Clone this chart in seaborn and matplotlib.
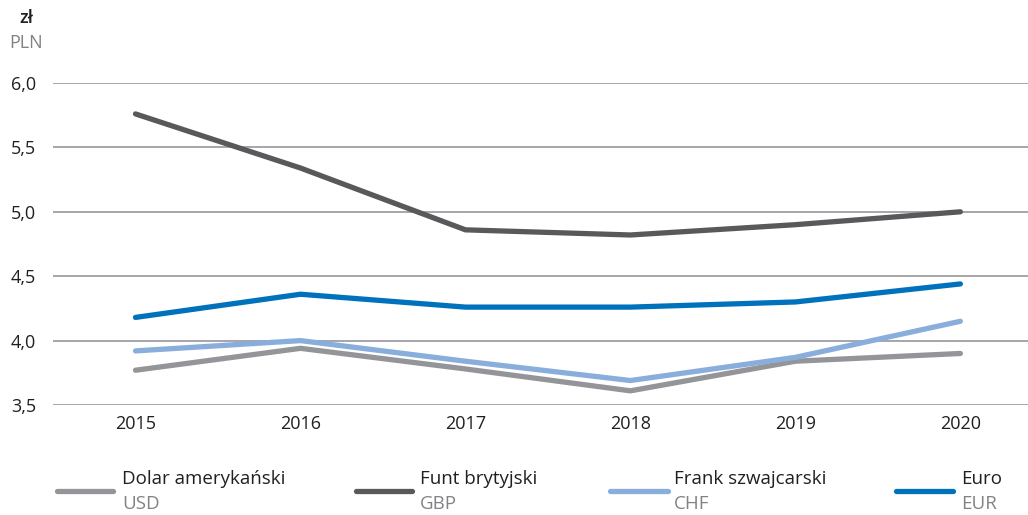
import matplotlib
matplotlib.use("Agg")
import matplotlib.pyplot as plt
from matplotlib.lines import Line2D
import seaborn as sns
import pandas as pd

years = [2015, 2016, 2017, 2018, 2019, 2020]
usd = [3.77, 3.94, 3.78, 3.61, 3.84, 3.90]
gbp = [5.76, 5.34, 4.86, 4.82, 4.90, 5.00]
chf = [3.92, 4.00, 3.84, 3.69, 3.87, 4.15]
eur = [4.18, 4.36, 4.26, 4.26, 4.30, 4.44]

names = ["Dolar amerykański", "Funt brytyjski", "Frank szwajcarski", "Euro"]
codes = ["USD", "GBP", "CHF", "EUR"]
colors = ["#939598", "#58595b", "#8aaedc", "#0072bc"]
y_ticks = [3.5, 4.0, 4.5, 5.0, 5.5, 6.0]
y_labels = ["3,5", "4,0", "4,5", "5,0", "5,5", "6,0"]

series = [usd, gbp, chf, eur]
df = pd.DataFrame({
    "rok": years * 4,
    "kurs": [v for s in series for v in s],
    "waluta": [c for c in codes for _ in years],
})

sns.set_theme(style="white")
plt.rcParams["font.family"] = ["Open Sans", "DejaVu Sans"]

fig = plt.figure(figsize=(10.28, 5.15), dpi=100)
ax = fig.add_axes([53 / 1028, 1 - 405 / 515, (1028 - 53) / 1028, (405 - 83) / 515])

for v in y_ticks:
    ax.axhline(v, color="#9d9fa2", lw=1.3, zorder=0)

sns.lineplot(data=df, x="rok", y="kurs", hue="waluta", hue_order=codes,
             palette=colors, linewidth=3.8, ax=ax, legend=False,
             solid_capstyle="round", solid_joinstyle="miter")

ax.set_xlim(2014.5, 2020.41)
ax.set_ylim(3.5, 6.0)
ax.set_yticks(y_ticks)
ax.set_yticklabels(y_labels)
ax.set_xticks(years)
ax.set_xticklabels([str(y) for y in years])
ax.tick_params(axis="both", length=0, labelsize=13, colors="#231f20")
ax.tick_params(axis="y", pad=12)
ax.tick_params(axis="x", pad=7)
for sp in ax.spines.values():
    sp.set_visible(False)
ax.set_xlabel("")
ax.set_ylabel("")
ax.patch.set_alpha(0)

fig.text(26 / 1028, 1 - 18 / 515, "zł", fontsize=13, color="#231f20",
         ha="center", va="center", fontweight="semibold")
fig.text(26 / 1028, 1 - 43 / 515, "PLN", fontsize=13, color="#808285",
         ha="center", va="center")

# legend along the bottom edge
leg_x = [(57, 113, 122), (356, 412, 420), (610, 668, 674), (896, 953, 961)]
for (x0, x1, tx), name, code, col in zip(leg_x, names, codes, colors):
    fig.add_artist(Line2D([x0 / 1028, x1 / 1028], [1 - 491 / 515] * 2,
                          color=col, lw=3.8, solid_capstyle="round",
                          transform=fig.transFigure))
    fig.text(tx / 1028, 1 - 479 / 515, name, fontsize=13.5, color="#231f20",
             ha="left", va="center")
    fig.text(tx / 1028, 1 - 504 / 515, code, fontsize=13.5, color="#808285",
             ha="left", va="center")

fig.savefig("out.png", dpi=100)
